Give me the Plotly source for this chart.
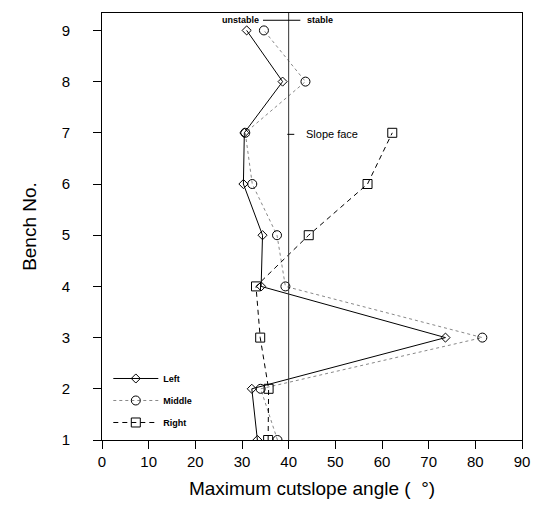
import plotly.graph_objects as go

benches = [1, 2, 3, 4, 5, 6, 7, 8, 9]
left_vals = [33.3, 32.1, 73.6, 34.1, 34.4, 30.3, 30.5, 38.7, 31.0]
middle_vals = [37.6, 34.0, 81.5, 39.3, 37.5, 32.2, 30.7, 43.6, 34.7]
right_benches = [1, 2, 3, 4, 5, 6, 7]
right_vals = [35.6, 35.7, 33.9, 33.0, 44.3, 56.9, 62.2]
slope_face = 40
x_ticks = [0, 10, 20, 30, 40, 50, 60, 70, 80, 90]
y_ticks = [1, 2, 3, 4, 5, 6, 7, 8, 9]

font_family = "Arial, Liberation Sans, sans-serif"

fig = go.Figure()
fig.add_trace(go.Scatter(
    x=left_vals, y=benches, name="Left", mode="lines+markers", legendgroup="a",
    line=dict(color="black", width=1, dash="solid"),
    marker=dict(symbol="diamond-open", size=7, color="black", line=dict(width=1)),
))
fig.add_trace(go.Scatter(
    x=middle_vals, y=benches, name="Middle", mode="lines+markers", legendgroup="b",
    line=dict(color="#888888", width=1, dash="dot"),
    marker=dict(symbol="circle-open", size=9, color="black", line=dict(width=1)),
))
fig.add_trace(go.Scatter(
    x=right_vals, y=right_benches, name="Right", mode="lines+markers", legendgroup="c",
    line=dict(color="black", width=1, dash="5px,4px"),
    marker=dict(symbol="square-open", size=9, color="black", line=dict(width=1)),
))

# slope face line
fig.add_shape(type="line", xref="x", yref="paper", x0=slope_face, x1=slope_face,
              y0=0, y1=1, line=dict(color="#333333", width=1))
# unstable/stable marker line
fig.add_shape(type="line", xref="x", yref="paper", x0=34.5, x1=42.5,
              y0=0.983, y1=0.983, line=dict(color="black", width=1))
fig.add_shape(type="line", xref="x", yref="y", x0=39.7, x1=41.2,
              y0=6.97, y1=6.97, line=dict(color="black", width=1))

fig.add_annotation(x=34.0, y=0.983, xref="x", yref="paper", text="<b>unstable</b>",
                   showarrow=False, xanchor="right", yanchor="middle",
                   font=dict(size=9, color="black", family=font_family))
fig.add_annotation(x=43.5, y=0.983, xref="x", yref="paper", text="<b>stable</b>",
                   showarrow=False, xanchor="left", yanchor="middle",
                   font=dict(size=9, color="black", family=font_family))
fig.add_annotation(x=43.3, y=6.97, xref="x", yref="y", text="Slope face",
                   showarrow=False, xanchor="left", yanchor="middle",
                   font=dict(size=11, color="black", family=font_family))

fig.update_layout(
    width=546, height=521,
    margin=dict(l=102, r=24, t=13, b=81),
    paper_bgcolor="white", plot_bgcolor="white",
    font=dict(family=font_family, color="black"),
    showlegend=True,
    legend=dict(x=0.015, y=0.178, xanchor="left", yanchor="top",
                bgcolor="rgba(0,0,0,0)",
                font=dict(size=9, family=font_family, weight="bold"),
                tracegroupgap=3, itemwidth=45),
    xaxis=dict(range=[0, 90], tickvals=x_ticks, ticks="outside", ticklen=8,
               tickcolor="black", showline=True, linecolor="black", linewidth=1,
               mirror=True, showgrid=False, zeroline=False,
               tickfont=dict(size=15),
               title=dict(text="Maximum cutslope angle (  °)", font=dict(size=19), standoff=12)),
    yaxis=dict(range=[1, 9.34], tickvals=y_ticks, ticks="outside", ticklen=8,
               tickcolor="black", showline=True, linecolor="black", linewidth=1,
               mirror=True, showgrid=False, zeroline=False,
               tickfont=dict(size=15), ticklabelstandoff=20,
               title=dict(text="Bench No.", font=dict(size=19), standoff=20)),
)

fig.write_html("out.html")
